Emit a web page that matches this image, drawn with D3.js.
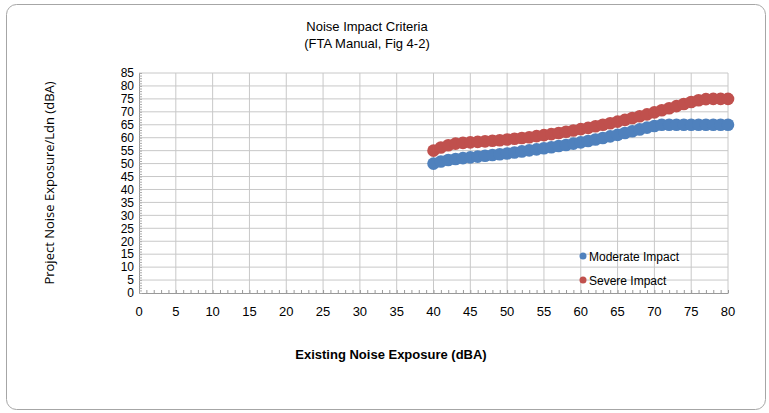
<!DOCTYPE html>
<html>
<head>
<meta charset="utf-8">
<script src="https://cdn.jsdelivr.net/npm/d3@7"></script>
<style>
  body { margin: 0; background: #fff; }
  text { font-family: "Liberation Sans", Arial, sans-serif; fill: #000; }
</style>
</head>
<body>
<div id="chart"></div>
<script>
const existing = d3.range(40, 81);
const moderate = [50, 50.8, 51.4, 51.8, 52.1, 52.4, 52.7, 53.0, 53.3, 53.6, 53.9,
                  54.3, 54.7, 55.1, 55.5, 55.9, 56.3, 56.8, 57.2, 57.7, 58.2,
                  58.7, 59.3, 59.9, 60.5, 61.1, 61.8, 62.5, 63.2, 63.9, 64.5,
                  65, 65, 65, 65, 65, 65, 65, 65, 65, 65];
const severe = [55, 56.2, 57.1, 57.7, 58.0, 58.2, 58.4, 58.6, 58.8, 59.0, 59.3,
                59.6, 59.9, 60.2, 60.6, 61.0, 61.4, 61.8, 62.3, 62.8, 63.3,
                63.8, 64.4, 65.0, 65.6, 66.2, 66.9, 67.6, 68.3, 69.0, 69.8,
                70.6, 71.4, 72.2, 73.0, 73.8, 74.5, 74.9, 75, 75, 75];
const seriesNames = ['Moderate Impact', 'Severe Impact'];
const seriesColors = ['#4F81BD', '#C0504D'];
const xTicks = d3.range(0, 81, 5);
const yTicks = d3.range(0, 86, 5);

const w = 769;
const h = 413;
const margin = {left: 139, right: 41, top: 73, bottom: 120};

const svg = d3.select('#chart').append('svg').attr('width', w).attr('height', h);

svg.append('rect')
   .attr('x', 6.5).attr('y', 4.5)
   .attr('width', 759).attr('height', 405)
   .attr('rx', 10)
   .attr('fill', '#fff')
   .attr('stroke', '#a6a6a6');

const xScale = d3.scaleLinear().domain([0, 80]).range([margin.left, w - margin.right]);
const yScale = d3.scaleLinear().domain([0, 85]).range([h - margin.bottom, margin.top]);

// grid
svg.append('g')
   .selectAll('line.v')
   .data(xTicks.slice(1))
   .enter()
   .append('line')
   .attr('x1', d => xScale(d)).attr('x2', d => xScale(d))
   .attr('y1', yScale(0)).attr('y2', yScale(85))
   .attr('stroke', '#c8c8c8');

svg.append('g')
   .selectAll('line.h')
   .data(yTicks.slice(1))
   .enter()
   .append('line')
   .attr('x1', xScale(0)).attr('x2', xScale(80))
   .attr('y1', d => yScale(d)).attr('y2', d => yScale(d))
   .attr('stroke', '#c8c8c8');

// axes with minor ticks inside
const xAxis = svg.append('g')
   .attr('transform', `translate(0, ${yScale(0)})`)
   .call(d3.axisBottom(xScale).tickValues(d3.range(0, 81, 1)).tickSizeInner(-3).tickSizeOuter(0).tickFormat(''));
xAxis.selectAll('line').attr('stroke', '#999');
xAxis.select('.domain').attr('stroke', '#999');

const yAxis = svg.append('g')
   .attr('transform', `translate(${xScale(0)}, 0)`)
   .call(d3.axisLeft(yScale).tickValues(d3.range(0, 86, 1)).tickSizeInner(-3).tickSizeOuter(0).tickFormat(''));
yAxis.selectAll('line').attr('stroke', '#aaa');
yAxis.select('.domain').attr('stroke', '#999');

svg.append('g')
   .selectAll('text')
   .data(xTicks)
   .enter()
   .append('text')
   .attr('x', d => xScale(d))
   .attr('y', yScale(0) + 23)
   .attr('text-anchor', 'middle')
   .attr('font-size', 13)
   .text(d => d);

svg.append('g')
   .selectAll('text')
   .data(yTicks)
   .enter()
   .append('text')
   .attr('x', xScale(0) - 5)
   .attr('y', d => yScale(d) + 4.3)
   .attr('text-anchor', 'end')
   .attr('font-size', 12)
   .text(d => d);

// series
[moderate, severe].forEach((vals, i) => {
    svg.append('g')
       .selectAll('circle')
       .data(existing)
       .enter()
       .append('circle')
       .attr('cx', d => xScale(d))
       .attr('cy', (d, j) => yScale(vals[j]))
       .attr('r', 6.3)
       .attr('fill', seriesColors[i]);
});

// titles
svg.append('text').attr('x', 367).attr('y', 31).attr('text-anchor', 'middle').attr('font-size', 13).text('Noise Impact Criteria');
svg.append('text').attr('x', 367).attr('y', 48).attr('text-anchor', 'middle').attr('font-size', 13).text('(FTA Manual, Fig 4-2)');

svg.append('text')
   .attr('x', 391).attr('y', 359)
   .attr('text-anchor', 'middle')
   .attr('font-size', 13)
   .attr('font-weight', 'bold')
   .text('Existing Noise Exposure (dBA)');

svg.append('text')
   .attr('transform', 'translate(54, 183) rotate(-90)')
   .attr('text-anchor', 'middle')
   .attr('font-size', 13)
   .style('font-family', '"Open Sans", sans-serif')
   .text('Project Noise Exposure/Ldn (dBA)');

// legend
const legend = svg.append('g');
seriesNames.forEach((name, i) => {
    legend.append('circle')
          .attr('cx', 583).attr('cy', 256 + i * 24)
          .attr('r', 3.5)
          .attr('fill', seriesColors[i]);
    legend.append('text')
          .attr('x', 589).attr('y', 260.5 + i * 24)
          .attr('font-size', 12)
          .text(name);
});
</script>
</body>
</html>
